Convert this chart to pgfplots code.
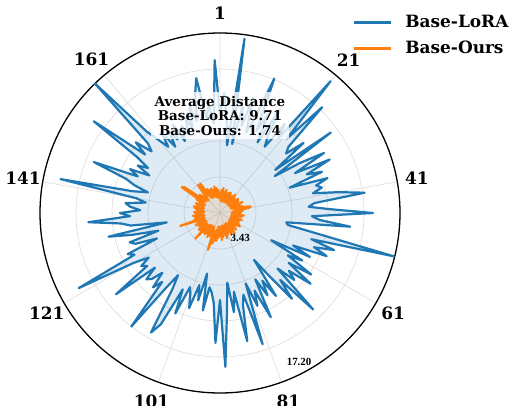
\documentclass[border=0pt]{standalone}
\usepackage{pgfplots}
\pgfplotsset{compat=1.18}
\usepackage{pgfplotstable}
\usepgfplotslibrary{polar}
\usepackage{fontspec}
\setmainfont{DejaVu Serif}
\newfontfamily\labfont{Liberation Serif}
\definecolor{tabblue}{HTML}{1F77B4}
\definecolor{taborange}{HTML}{FF7F0E}

\pgfplotstableread{
i b o
1 9.56 1.9
2 11.47 1.2
3 9.08 2.2
4 6.50 1.3
5 16.82 2.4
6 6.69 1.1
7 10.51 2.0
8 8.60 1.4
9 11.47 2.3
10 8.12 1.2
11 9.56 1.8
12 13.86 1.1
13 8.60 2.1
14 10.51 1.3
15 7.64 2.2
16 11.47 1.2
17 8.60 1.9
18 7.64 1.1
19 10.51 2.0
20 9.08 1.4
21 16.44 2.3
22 9.56 1.2
23 14.05 2.0
24 9.08 1.1
25 8.50 1.8
26 10.42 1.3
27 6.69 2.2
28 13.09 1.1
29 6.31 2.1
30 9.08 1.2
31 11.47 1.9
32 8.12 1.3
33 11.66 2.4
34 9.08 1.1
35 10.51 2.0
36 7.07 1.2
37 10.80 2.2
38 9.56 1.4
39 10.03 2.5
40 9.08 3.0
41 11.47 2.8
42 13.95 1.4
43 9.08 2.2
44 8.50 1.2
45 10.51 2.0
46 14.62 1.1
47 8.79 1.9
48 9.56 1.3
49 12.52 2.3
50 6.40 1.2
51 6.59 2.1
52 9.56 1.1
53 17.11 1.8
54 9.08 1.3
55 11.47 2.2
56 9.56 1.1
57 10.99 2.0
58 7.64 1.2
59 9.56 1.9
60 5.54 1.1
61 9.08 2.1
62 7.64 1.3
63 10.51 2.3
64 8.12 1.2
65 10.99 2.0
66 8.60 1.1
67 9.56 1.8
68 7.64 1.3
69 12.81 2.2
70 8.60 1.2
71 10.70 2.0
72 7.64 1.4
73 5.54 2.4
74 9.56 1.3
75 7.64 2.1
76 9.08 1.1
77 7.17 2.3
78 11.08 1.4
79 8.12 2.0
80 9.56 1.2
81 7.17 2.2
82 13.19 1.3
83 8.12 2.5
84 9.08 1.4
85 12.52 2.1
86 7.64 1.2
87 9.56 2.3
88 6.69 1.5
89 9.56 2.6
90 14.72 1.3
91 8.31 2.2
92 12.42 1.4
93 8.60 2.4
94 7.64 1.3
95 7.17 2.7
96 9.46 1.6
97 5.92 2.5
98 8.60 3.0
99 7.17 1.8
100 9.56 3.7
101 8.31 2.1
102 7.64 1.5
103 10.51 2.4
104 8.12 1.4
105 12.04 2.6
106 13.19 1.6
107 8.60 2.3
108 7.17 1.4
109 9.08 2.5
110 13.76 1.8
111 8.60 2.4
112 9.56 1.5
113 7.93 3.4
114 9.08 1.7
115 9.46 2.5
116 8.12 1.6
117 12.61 2.6
118 8.60 1.8
119 9.08 2.3
120 8.03 1.5
121 9.56 2.4
122 15.29 1.6
123 9.08 2.6
124 9.65 1.7
125 6.50 2.3
126 8.60 1.5
127 9.08 4.0
128 6.12 1.9
129 8.60 2.5
130 10.89 1.6
131 5.16 2.4
132 8.60 1.5
133 9.56 2.6
134 12.61 1.7
135 8.60 2.3
136 9.56 1.6
137 7.64 2.5
138 8.60 1.5
139 9.08 2.2
140 7.17 1.6
141 8.12 2.4
142 15.58 1.7
143 8.60 2.6
144 7.17 1.6
145 8.60 2.3
146 9.56 1.8
147 13.00 2.5
148 8.60 1.7
149 9.56 2.2
150 7.64 1.6
151 9.08 2.6
152 8.12 1.8
153 9.56 4.4
154 14.91 4.2
155 9.08 2.4
156 10.51 1.7
157 8.79 2.6
158 9.56 1.8
159 17.20 2.3
160 10.51 1.6
161 9.08 2.5
162 8.03 3.4
163 9.56 2.0
164 7.64 3.4
165 9.08 2.3
166 8.12 1.7
167 9.56 2.6
168 7.64 1.6
169 9.08 2.4
170 8.12 1.8
171 9.56 2.5
172 8.60 1.6
173 10.51 2.3
174 9.08 1.7
175 11.47 2.6
176 13.09 1.5
177 9.08 2.4
178 10.51 1.6
179 8.60 2.2
180 14.62 1.4
181 9.56 1.9
}\data

\begin{document}
\begin{tikzpicture}
\path[use as bounding box] (0,0) rectangle (514bp,-406bp);
\begin{polaraxis}[
  at={(220bp,-213bp)}, anchor=center,
  scale only axis, width=360bp, height=360bp,
  xmin=0, xmax=360, ymin=0, ymax=17.2,
  xtick={90,50,10,330,290,250,210,170,130},
  xticklabels={1,21,41,61,81,101,121,141,161},
  ytick={3.44,6.88,10.32,13.76,17.2},
  yticklabels={},
  grid=major,
  major grid style={black!14, line width=0.6bp},
  major tick length=0pt,
  separate axis lines,
  x axis line style={black, line width=1.3bp},
  y axis line style={draw=none},
  xticklabel style={font=\fontsize{17}{17}\selectfont\bfseries, anchor=center, shift={(\tick:20bp)}},
  clip=false,
  legend cell align=left,
  legend style={at={(0.86,1.06)}, anchor=north west, draw=none, fill=none,
    font=\fontsize{17}{17}\selectfont\bfseries, row sep=8bp,
    /tikz/every odd column/.append style={column sep=11bp}},
  legend image code/.code={\draw[#1, line width=2.6bp] (0bp,0bp) -- (37bp,0bp);},
]
\addplot[draw=none, fill=tabblue, fill opacity=0.15, forget plot]
  table[x expr={mod(452-2*\thisrow{i},360)}, y=b] {\data};
\addplot[tabblue, line width=2.2bp, line join=round]
  table[x expr={mod(452-2*\thisrow{i},360)}, y=b] {\data};
\addlegendentry{Base-LoRA}
\addplot[draw=none, fill=taborange, fill opacity=0.15, forget plot]
  table[x expr={mod(452-2*\thisrow{i},360)}, y=o] {\data};
\addplot[taborange, line width=2.2bp, line join=round]
  table[x expr={mod(452-2*\thisrow{i},360)}, y=o] {\data};
\addlegendentry{Base-Ours}
\node[font=\labfont\fontsize{11}{11}\selectfont\bfseries] at (axis cs:309,3.06) {3.43};
\node[font=\labfont\fontsize{11}{11}\selectfont\bfseries] at (axis cs:298,16.1) {17.20};
\node[fill=white, fill opacity=0.8, text opacity=1, align=center, inner sep=4bp,
  font=\fontsize{13.5}{14.5}\selectfont\bfseries] at (axis description cs:0.5,0.77)
  {Average Distance\\Base-LoRA: 9.71\\Base-Ours: 1.74};
\end{polaraxis}
\end{tikzpicture}
\end{document}
